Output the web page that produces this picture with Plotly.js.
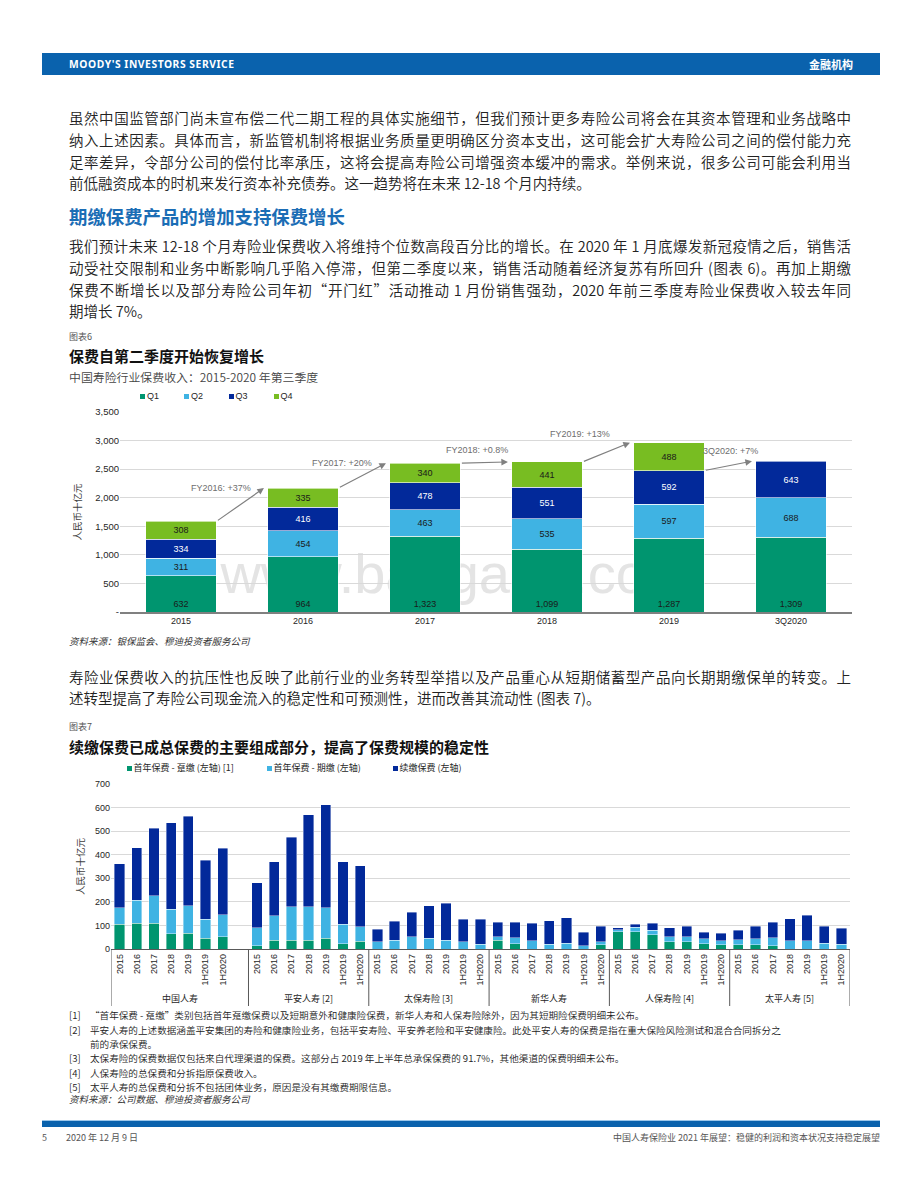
<!DOCTYPE html>
<html>
<head>
<meta charset="utf-8">
<script src="https://cdn.plot.ly/plotly-3.0.1.min.js"></script>
<style>
  body { margin: 0; background: #fff; }
  #page { position: relative; width: 920px; height: 1191px; overflow: hidden; background: #fff;
          font-family: "Noto Sans CJK SC", "Noto Sans", sans-serif; color: #1f1f1f; }
  .abs { position: absolute; white-space: nowrap; }
  .hdr { left: 42px; top: 53px; width: 838px; height: 22px; background: #0a62ad; }
  .hdr-l { left: 69px; top: 53px; line-height: 22px; font-family: "Noto Sans", sans-serif; font-weight: 700; font-size: 10.3px; color: #fff; letter-spacing: 0.55px; }
  .hdr-r { right: 67px; top: 53px; line-height: 22px; font-weight: 700; font-size: 11px; color: #fff; }
  .ln { position: absolute; left: 69px; width: 782px; height: 22px; line-height: 22px; font-size: 14.5px; font-weight: 350;
        white-space: nowrap; text-align: justify; text-align-last: justify; color: #222; }
  .ln.last { text-align-last: left; }
  .h2 { left: 69px; font-size: 18.4px; font-weight: 700; color: #1b6db5; line-height: 24px; }
  .fig { left: 69px; font-size: 9px; color: #555; line-height: 12px; }
  .ftitle { left: 69px; font-size: 15px; font-weight: 700; color: #111; line-height: 20px; }
  .fsub { left: 69px; font-size: 11.9px; color: #444; line-height: 16px; font-weight: 350; }
  .src { left: 69px; font-size: 9.5px; font-style: italic; color: #333; line-height: 13px; }
  .fn { font-size: 9.6px; color: #222; line-height: 13px; font-weight: 350; }
  .wm { font-family: "Liberation Sans", Arial, sans-serif; font-size: 56px; line-height: 42px; height: 42px; color: #e4e4e4; transform: translate(-50%, -50%); }
  .chart { position: absolute; left: 0; }
  .ftbar { left: 42px; top: 1120px; width: 838px; height: 6px; background: #0a62ad; border-top: 1px solid #9cc7ea; }
  .ft { font-size: 9px; color: #555; line-height: 12px; }
  .lg { position: absolute; white-space: nowrap; line-height: 12px; height: 12px; }
  .lg i { position: absolute; left: 0; top: 3.5px; width: 5px; height: 5px; }
  .lg span { position: absolute; left: 7px; top: 0; font-size: 9px; color: #262626; }
</style>
</head>
<body>
<div id="page">
  <div class="abs hdr"></div>
  <div class="abs hdr-l">MOODY'S INVESTORS SERVICE</div>
  <div class="abs hdr-r">金融机构</div>

  <div class="ln" style="top:107px">虽然中国监管部门尚未宣布偿二代二期工程的具体实施细节，但我们预计更多寿险公司将会在其资本管理和业务战略中</div>
  <div class="ln" style="top:129px">纳入上述因素。具体而言，新监管机制将根据业务质量更明确区分资本支出，这可能会扩大寿险公司之间的偿付能力充</div>
  <div class="ln" style="top:151px">足率差异，令部分公司的偿付比率承压，这将会提高寿险公司增强资本缓冲的需求。举例来说，很多公司可能会利用当</div>
  <div class="ln last" style="top:172px">前低融资成本的时机来发行资本补充债券。这一趋势将在未来 12-18 个月内持续。</div>

  <div class="abs h2" style="top:204px">期缴保费产品的增加支持保费增长</div>

  <div class="ln" style="top:235px">我们预计未来 12-18 个月寿险业保费收入将维持个位数高段百分比的增长。在 2020 年 1 月底爆发新冠疫情之后，销售活</div>
  <div class="ln" style="top:257px">动受社交限制和业务中断影响几乎陷入停滞，但第二季度以来，销售活动随着经济复苏有所回升 (图表 6)。再加上期缴</div>
  <div class="ln" style="top:279px">保费不断增长以及部分寿险公司年初“开门红”活动推动 1 月份销售强劲，2020 年前三季度寿险业保费收入较去年同</div>
  <div class="ln last" style="top:300px">期增长 7%。</div>

  <div class="abs fig" style="top:331px">图表6</div>
  <div class="abs ftitle" style="top:346px">保费自第二季度开始恢复增长</div>
  <div class="abs fsub" style="top:369px">中国寿险行业保费收入：2015-2020 年第三季度</div>

  <div class="abs wm" style="left:457px; top:574px;">www.baogao8.com</div>
  <div id="chart6" class="chart" style="top:380px; width:920px; height:260px;"></div>
  <div id="legend6"></div>

  <div class="abs src" style="top:635px">资料来源：银保监会、穆迪投资者服务公司</div>

  <div class="ln" style="top:666px">寿险业保费收入的抗压性也反映了此前行业的业务转型举措以及产品重心从短期储蓄型产品向长期期缴保单的转变。上</div>
  <div class="ln last" style="top:687px">述转型提高了寿险公司现金流入的稳定性和可预测性，进而改善其流动性 (图表 7)。</div>

  <div class="abs fig" style="top:721px">图表7</div>
  <div class="abs ftitle" style="top:737px">续缴保费已成总保费的主要组成部分，提高了保费规模的稳定性</div>

  <div id="chart7" class="chart" style="top:755px; width:920px; height:255px;"></div>
  <div id="legend7"></div>

  <div class="abs fn" style="left:69px; top:1009px">[1]</div>
  <div class="abs fn" style="left:90px; top:1009px">“首年保费 - 趸缴”类别包括首年趸缴保费以及短期意外和健康险保费，新华人寿和人保寿险除外，因为其短期险保费明细未公布。</div>
  <div class="abs fn" style="left:69px; top:1024px">[2]</div>
  <div class="abs fn" style="left:90px; top:1024px">平安人寿的上述数据涵盖平安集团的寿险和健康险业务，包括平安寿险、平安养老险和平安健康险。此处平安人寿的保费是指在重大保险风险测试和混合合同拆分之</div>
  <div class="abs fn" style="left:90px; top:1038px">前的承保保费。</div>
  <div class="abs fn" style="left:69px; top:1052px">[3]</div>
  <div class="abs fn" style="left:90px; top:1052px">太保寿险的保费数据仅包括来自代理渠道的保费。这部分占 2019 年上半年总承保保费的 91.7%，其他渠道的保费明细未公布。</div>
  <div class="abs fn" style="left:69px; top:1067px">[4]</div>
  <div class="abs fn" style="left:90px; top:1067px">人保寿险的总保费和分拆指原保费收入。</div>
  <div class="abs fn" style="left:69px; top:1081px">[5]</div>
  <div class="abs fn" style="left:90px; top:1081px">太平人寿的总保费和分拆不包括团体业务，原因是没有其缴费期限信息。</div>
  <div class="abs src" style="top:1093px">资料来源：公司数据、穆迪投资者服务公司</div>

  <div class="abs ftbar"></div>
  <div class="abs ft" style="left:42px; top:1132px">5</div>
  <div class="abs ft" style="left:66px; top:1132px">2020 年 12 月 9 日</div>
  <div class="abs ft" style="right:40px; top:1132px">中国人寿保险业 2021 年展望：稳健的利润和资本状况支持稳定展望</div>
</div>

<script>
// ---------- 图表6 data ----------
const fig6Categories = ['2015', '2016', '2017', '2018', '2019', '3Q2020'];
const fig6Q1 = [632, 964, 1323, 1099, 1287, 1309];
const fig6Q2 = [311, 454, 463, 535, 597, 688];
const fig6Q3 = [334, 416, 478, 551, 592, 643];
const fig6Q4 = [308, 335, 340, 441, 488, null];
const fig6Growth = ['FY2016: +37%', 'FY2017: +20%', 'FY2018: +0.8%', 'FY2019: +13%', '3Q2020: +7%'];
const fig6YTicks = [0, 500, 1000, 1500, 2000, 2500, 3000, 3500];
const fig6YTickText = ['-', '500', '1,000', '1,500', '2,000', '2,500', '3,000', '3,500'];

// ---------- 图表7 data ----------
const fig7Companies = ['中国人寿', '平安人寿 [2]', '太保寿险 [3]', '新华人寿', '人保寿险 [4]', '太平人寿 [5]'];
const fig7Periods = ['2015', '2016', '2017', '2018', '2019', '1H2019', '1H2020'];
// values per company in period order (RMB bn)
const fig7Single = [   // 首年保费 - 趸缴
  105, 110, 110, 65, 67, 46, 52,     // 中国人寿
  14, 37, 37, 37, 46, 22, 32,        // 平安人寿
  0, 0, 0, 0, 0, 0, 0,               // 太保寿险
  38, 22, 0, 0, 0, 0, 18,            // 新华人寿
  74, 74, 60, 31, 31, 22, 18,        // 人保寿险
  18, 18, 14, 0, 0, 0, 0             // 太平人寿
];
const fig7Regular = [  // 首年保费 - 期缴
  69, 97, 115, 104, 116, 81, 94,
  76, 105, 143, 143, 128, 82, 62,
  30, 38, 52, 46, 38, 30, 21,
  15, 26, 34, 20, 25, 14, 12,
  8, 19, 20, 21, 22, 22, 16,
  21, 26, 34, 34, 34, 25, 20
];
const fig7Renewal = [  // 续缴保费
  187, 222, 288, 366, 381, 250, 281,
  191, 229, 295, 389, 437, 267, 259,
  54, 79, 103, 138, 156, 97, 106,
  61, 66, 76, 99, 107, 58, 66,
  8, 11, 30, 38, 43, 28, 32,
  41, 52, 66, 94, 109, 71, 69
];

const FONT = '"Liberation Sans", Arial, "Noto Sans CJK SC", sans-serif';
const CJK = '"Noto Sans CJK SC", "Liberation Sans", sans-serif';
const GREEN = '#00956f', LBLUE = '#3fb3e3', DBLUE = '#02299a', LGREEN = '#78bd22';
const fmt = v => (v == null ? '' : v.toLocaleString('en-US'));

// simple HTML legend built from the trace definitions
function htmlLegend(hostId, traces, lefts, top, fontFamily) {
  const host = document.getElementById(hostId);
  traces.forEach((t, i) => {
    const d = document.createElement('div');
    d.className = 'lg';
    d.style.left = lefts[i] + 'px';
    d.style.top = top + 'px';
    d.innerHTML = `<i style="background:${t.marker.color}"></i><span style="font-family:${fontFamily.replace(/"/g, "'")}">${t.name}</span>`;
    host.appendChild(d);
  });
}

// ---------- 图表6 ----------
(function () {
  const mk = (name, y, color, tcolor, anchor) => ({
    type: 'bar', name, x: fig6Categories, y,
    marker: { color, line: { color: '#ffffff', width: 0.6 } },
    text: y.map(fmt), textposition: 'inside', insidetextanchor: anchor,
    textfont: { family: FONT, size: 9, color: tcolor }, textangle: 0,
    hoverinfo: 'skip'
  });
  const traces = [
    mk('Q1', fig6Q1, GREEN, '#1a1a1a', 'start'),
    mk('Q2', fig6Q2, LBLUE, '#1a1a1a', 'middle'),
    mk('Q3', fig6Q3, DBLUE, '#ffffff', 'middle'),
    mk('Q4', fig6Q4, LGREEN, '#1a1a1a', 'middle')
  ];
  const totals = fig6Categories.map((c, i) => fig6Q1[i] + fig6Q2[i] + fig6Q3[i] + (fig6Q4[i] || 0));
  const labelDx = [0.33, 0.32, 0.43, 0.27, 0.5];
  const labelShift = [0, 0, 12, 9, 10];
  const ann = [];
  fig6Growth.forEach((txt, i) => {
    const tailY = (i === fig6Growth.length - 1) ? fig6Q1[i] + fig6Q2[i] + fig6Q3[i] : totals[i];
    ann.push({
      x: i + 1 - 0.32, y: totals[i + 1], xref: 'x', yref: 'y',
      ax: i + 0.29, ay: tailY, axref: 'x', ayref: 'y',
      text: '', showarrow: true, arrowhead: 2, arrowsize: 1.1, arrowwidth: 1.2,
      arrowcolor: '#808080', standoff: 0, startstandoff: 0
    });
    ann.push({
      x: i + labelDx[i], y: totals[i + 1], xref: 'x', yref: 'y', yshift: labelShift[i],
      text: txt, showarrow: false, font: { family: FONT, size: 9, color: '#6e6e6e' }
    });
  });
  const layout = {
    width: 920, height: 260,
    margin: { l: 120, r: 68, t: 32, b: 28 },
    paper_bgcolor: 'rgba(0,0,0,0)', plot_bgcolor: 'rgba(0,0,0,0)',
    barmode: 'stack', bargap: 0.426,
    font: { family: FONT, size: 9, color: '#262626' },
    showlegend: false,
    xaxis: {
      type: 'category', showgrid: false, showline: true, linecolor: '#808080', linewidth: 1.6,
      ticks: '', tickfont: { family: FONT, size: 9, color: '#262626' }, zeroline: false
    },
    yaxis: {
      range: [0, 3500], tickvals: fig6YTicks, ticktext: fig6YTickText,
      gridcolor: '#d9d9d9', gridwidth: 1, showline: false, zeroline: false, ticks: '',
      tickfont: { family: FONT, size: 9.5, color: '#262626' },
      title: { text: '人民币十亿元', font: { family: CJK, size: 9.5, color: '#404040' }, standoff: 11 }
    },
    annotations: ann
  };
  Plotly.newPlot('chart6', traces, layout, { staticPlot: true, displayModeBar: false });
  htmlLegend('legend6', traces, [140, 184, 228.5, 273.5], 390, FONT);
})();

// ---------- 图表7 ----------
(function () {
  const xIdx = [], tickText = [], groupStart = [];
  let slot = 0;
  fig7Companies.forEach((c, ci) => {
    groupStart.push(slot);
    fig7Periods.forEach(p => { xIdx.push(slot); tickText.push(p); slot++; });
    if (ci === 0) slot++; // empty slot after 中国人寿 as in the source chart
  });
  const bounds = groupStart.map(s => s - 0.5).concat([slot - 0.5]);
  const mk = (name, y, color) => ({
    type: 'bar', name, x: xIdx, y,
    marker: { color, line: { color: '#ffffff', width: 0.4 } },
    hoverinfo: 'skip'
  });
  const traces = [
    mk('首年保费 - 趸缴 (左轴) [1]', fig7Single, GREEN),
    mk('首年保费 - 期缴 (左轴)', fig7Regular, LBLUE),
    mk('续缴保费 (左轴)', fig7Renewal, DBLUE)
  ];
  const plotH = 255 - 29 - 61;
  const shapes = bounds.map(b => ({
    type: 'line', xref: 'x', yref: 'paper', x0: b, x1: b, y0: 0, y1: -57 / plotH,
    line: { color: '#595959', width: 1 }
  }));
  const ann = fig7Companies.map((c, i) => ({
    x: (bounds[i] + bounds[i + 1]) / 2, y: -49 / plotH, xref: 'x', yref: 'paper',
    yanchor: 'middle', text: c, showarrow: false,
    font: { family: CJK, size: 9, color: '#262626' }
  }));
  const layout = {
    width: 920, height: 255,
    margin: { l: 111, r: 70, t: 29, b: 61 },
    paper_bgcolor: 'rgba(0,0,0,0)', plot_bgcolor: 'rgba(0,0,0,0)',
    barmode: 'stack', bargap: 0.4,
    font: { family: FONT, size: 9, color: '#262626' },
    showlegend: false,
    xaxis: {
      range: [-0.5, slot - 0.5], tickvals: xIdx, ticktext: tickText, tickangle: -90,
      showgrid: false, showline: true, linecolor: '#595959', linewidth: 1.4, zeroline: false,
      ticks: '', tickfont: { family: FONT, size: 9, color: '#262626' }
    },
    yaxis: {
      range: [0, 700], dtick: 100, gridcolor: '#d9d9d9', gridwidth: 1.2, showline: false,
      zeroline: false, ticks: '', tickfont: { family: FONT, size: 9, color: '#262626' },
      title: { text: '人民币十亿元', font: { family: CJK, size: 9.5, color: '#404040' }, standoff: 8 }
    },
    shapes, annotations: ann
  };
  Plotly.newPlot('chart7', traces, layout, { staticPlot: true, displayModeBar: false });
  htmlLegend('legend7', traces, [126.5, 266.5, 392.5], 762, CJK);
})();
</script>
</body>
</html>
